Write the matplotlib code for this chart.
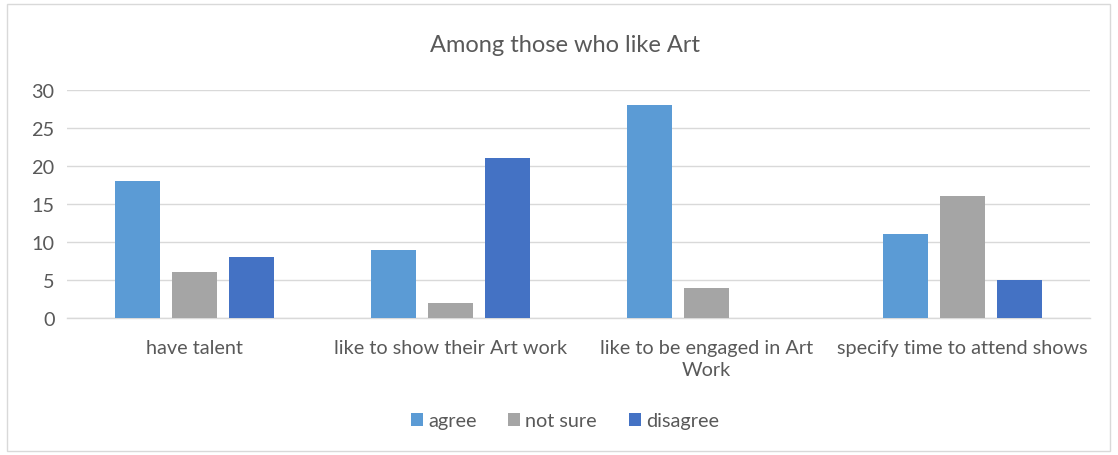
import matplotlib
matplotlib.use("Agg")
import matplotlib.pyplot as plt
import numpy as np
from matplotlib.patches import Rectangle

categories = ["have talent", "like to show their Art work", "like to be engaged in Art\nWork", "specify time to attend shows"]
series_names = ["agree", "not sure", "disagree"]
agree = [18, 9, 28, 11]
not_sure = [6, 2, 4, 16]
disagree = [8, 21, 0, 5]
colors = ["#5B9BD5", "#A5A5A5", "#4472C4"]
yticks = [0, 5, 10, 15, 20, 25, 30]

plt.rcParams['font.family'] = ['Lato', 'DejaVu Sans']
txt = "#595959"
fs = 14.3

fig = plt.figure(figsize=(11.18, 4.56), dpi=100)
ax = fig.add_axes([67/1118, 1-319/456, 1023/1118, 228/456])

x = np.arange(len(categories))
w = 0.176
off = 0.223
for i, (vals, name, c) in enumerate(zip([agree, not_sure, disagree], series_names, colors)):
    ax.bar(x + (i - 1) * off, vals, width=w, color=c, label=name, zorder=3)

ax.set_xlim(-0.5, len(categories) - 0.5)
ax.set_ylim(0, 30)
ax.set_yticks(yticks)
ax.set_yticklabels([str(t) for t in yticks], fontsize=fs, color=txt)
ax.set_xticks(x)
ax.set_xticklabels(categories, fontsize=fs, color=txt, linespacing=1.35)
ax.tick_params(axis='both', length=0)
ax.tick_params(axis='x', pad=15)
ax.tick_params(axis='y', pad=9)
ax.grid(axis='y', color='#D9D9D9', linewidth=1, zorder=0)
for s in ['top', 'right', 'left']:
    ax.spines[s].set_visible(False)
ax.spines['bottom'].set_color('#D9D9D9')
ax.spines['bottom'].set_linewidth(1)

fig.text(565/1118, 1-45/456, "Among those who like Art", ha='center', va='center', fontsize=17, color=txt)

leg = fig.legend(loc='center', bbox_to_anchor=(565/1118, 1-422/456), ncol=3, frameon=False,
                 fontsize=fs, handlelength=0.6, handleheight=0.6, handletextpad=0.25, columnspacing=1.6)
for t in leg.get_texts():
    t.set_color(txt)

fig.patches.append(Rectangle((7/1118, 4/456), 1103/1118, 447/456, transform=fig.transFigure,
                             fill=False, edgecolor='#D9D9D9', linewidth=1))

fig.savefig("out.png", dpi=100)
